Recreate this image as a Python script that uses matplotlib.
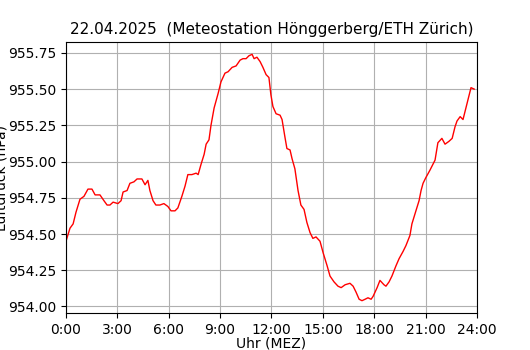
import matplotlib
matplotlib.use("Agg")
import matplotlib.pyplot as plt

times = ["0:00", "0:14", "0:25", "0:35", "0:49", "1:03", "1:17", "1:31", "1:42", "1:59",
         "2:13", "2:24", "2:34", "2:45", "3:02", "3:13", "3:20", "3:34", "3:44", "3:58",
         "4:09", "4:26", "4:37", "4:47", "4:54", "5:05", "5:15", "5:29", "5:43", "5:57",
         "6:08", "6:22", "6:32", "6:46", "6:57", "7:07", "7:21", "7:36", "7:43", "7:53",
         "8:04", "8:11", "8:21", "8:28", "8:39", "8:53", "9:03", "9:17", "9:28", "9:42",
         "9:56", "10:10", "10:20", "10:31", "10:41", "10:52", "10:59", "11:09", "11:20", "11:30",
         "11:41", "11:51", "11:58", "12:05", "12:16", "12:30", "12:37", "12:47", "12:54", "13:05",
         "13:12", "13:22", "13:33", "13:43", "13:54", "14:04", "14:15", "14:25", "14:36", "14:50",
         "15:01", "15:15", "15:25", "15:39", "15:53", "16:04", "16:18", "16:35", "16:46", "16:56",
         "17:07", "17:17", "17:28", "17:38", "17:49", "17:56", "18:10", "18:20", "18:34", "18:41",
         "18:52", "19:02", "19:16", "19:27", "19:41", "19:51", "20:05", "20:12", "20:26", "20:37",
         "20:44", "20:51", "21:01", "21:15", "21:33", "21:43", "21:57", "22:08", "22:22", "22:33",
         "22:43", "22:50", "23:01", "23:11", "23:25", "23:39", "23:50"]
pressure = [954.45, 954.54, 954.57, 954.65, 954.74, 954.76, 954.81, 954.81, 954.77, 954.77,
            954.73, 954.70, 954.70, 954.72, 954.71, 954.73, 954.79, 954.80, 954.85, 954.86,
            954.88, 954.88, 954.84, 954.87, 954.80, 954.73, 954.70, 954.70, 954.71, 954.69,
            954.66, 954.66, 954.68, 954.76, 954.83, 954.91, 954.91, 954.92, 954.91, 954.98,
            955.05, 955.12, 955.15, 955.25, 955.37, 955.47, 955.55, 955.61, 955.62, 955.65,
            955.66, 955.70, 955.71, 955.71, 955.73, 955.74, 955.71, 955.72, 955.69, 955.65,
            955.60, 955.58, 955.46, 955.38, 955.33, 955.32, 955.29, 955.17, 955.09, 955.08,
            955.02, 954.95, 954.80, 954.70, 954.67, 954.58, 954.51, 954.47, 954.48, 954.45,
            954.37, 954.28, 954.21, 954.17, 954.14, 954.13, 954.15, 954.16, 954.14, 954.10,
            954.05, 954.04, 954.05, 954.06, 954.05, 954.07, 954.13, 954.18, 954.15, 954.14,
            954.17, 954.21, 954.28, 954.33, 954.38, 954.42, 954.49, 954.57, 954.66, 954.73,
            954.80, 954.85, 954.89, 954.94, 955.01, 955.13, 955.16, 955.12, 955.14, 955.16,
            955.24, 955.28, 955.31, 955.29, 955.40, 955.51, 955.50]

xticks = [0, 3, 6, 9, 12, 15, 18, 21, 24]
xticklabels = ["0:00", "3:00", "6:00", "9:00", "12:00", "15:00", "18:00", "21:00", "24:00"]

hours = [int(t.split(":")[0]) + int(t.split(":")[1]) / 60 for t in times]

fig = plt.figure(figsize=(5.3, 3.5), dpi=100)
ax = fig.add_axes([0.1245, 0.1057, 0.7755, 0.7743])
ax.plot(hours, pressure, color="red", linewidth=1)
ax.set_xlim(0, 24)
ax.set_xticks(xticks)
ax.set_xticklabels(xticklabels)
ax.grid(True)
ax.set_title("22.04.2025  (Meteostation Hönggerberg/ETH Zürich)", fontsize=11)
ax.set_xlabel("Uhr (MEZ)", labelpad=0)
ax.set_ylabel("Luftdruck (hPa)", labelpad=0)
fig.savefig("out.png", dpi=100)
